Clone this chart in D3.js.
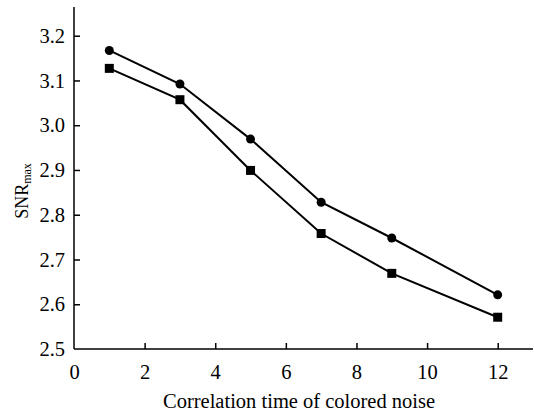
<!DOCTYPE html>
<html>
<head>
<meta charset="utf-8">
<script src="https://cdn.jsdelivr.net/npm/d3@7"></script>
<style>
  body { margin: 0; background: #fff; }
  svg text { font-family: "Liberation Serif", "Times New Roman", serif; fill: #000; }
</style>
</head>
<body>
<svg id="chart" width="534" height="412"></svg>
<script>
const xValues = [1, 3, 5, 7, 9, 12];
const circleSeries = [3.167, 3.092, 2.969, 2.828, 2.748, 2.621];
const squareSeries = [3.127, 3.057, 2.899, 2.758, 2.669, 2.571];
const xTicks = [0, 2, 4, 6, 8, 10, 12];
const yTicks = [2.5, 2.6, 2.7, 2.8, 2.9, 3.0, 3.1, 3.2];

const svg = d3.select("#chart");
const m = { left: 74, bottom: 349, right: 533, top: 7 };

const x = d3.scaleLinear().domain([0, 13]).range([m.left, m.right]);
const y = d3.scaleLinear().domain([2.5, 3.2]).range([m.bottom, 35.7]);

// axes (ticks point inward)
const xAxis = svg.append("g")
    .attr("transform", `translate(0,${m.bottom})`)
    .call(d3.axisBottom(x).tickValues(xTicks).tickSize(-6).tickPadding(15).tickSizeOuter(0));
xAxis.select(".domain").attr("d", `M${m.left},0H${m.right}`);
xAxis.selectAll(".tick").filter(d => d === 0).select("line").remove();

const yAxis = svg.append("g")
    .attr("transform", `translate(${m.left},0)`)
    .call(d3.axisLeft(y).tickValues(yTicks).tickFormat(d3.format(".1f")).tickSize(-6).tickPadding(9).tickSizeOuter(0));
yAxis.select(".domain").attr("d", `M0,${m.bottom}V${m.top}`);
yAxis.selectAll(".tick").filter(d => d === 2.5).select("line").remove();

svg.selectAll("g").attr("font-family", null).attr("font-size", null);
svg.selectAll(".domain, .tick line").attr("stroke", "#000").attr("stroke-width", 1.5);
svg.selectAll(".tick text").style("font-size", "20.5px");

// labels
svg.append("text")
    .attr("x", 163)
    .attr("y", 408)
    .style("font-size", "20.5px")
    .text("Correlation time of colored noise");

const yl = svg.append("text")
    .attr("transform", "translate(28,191) rotate(-90)")
    .attr("text-anchor", "middle")
    .style("font-size", "18px");
yl.append("tspan").text("SNR");
yl.append("tspan").style("font-size", "12px").attr("dy", 3).text("max");

// lines
const line = d3.line().x((d, i) => x(xValues[i])).y(d => y(d));

svg.append("path").datum(circleSeries)
    .attr("d", line).attr("fill", "none").attr("stroke", "#000").attr("stroke-width", 2);
svg.append("path").datum(squareSeries)
    .attr("d", line).attr("fill", "none").attr("stroke", "#000").attr("stroke-width", 2);

svg.selectAll("circle.pt").data(circleSeries).enter()
    .append("circle").attr("class", "pt")
    .attr("cx", (d, i) => x(xValues[i]))
    .attr("cy", d => y(d))
    .attr("r", 4.5)
    .attr("fill", "#000");

svg.selectAll("rect.pt").data(squareSeries).enter()
    .append("rect").attr("class", "pt")
    .attr("x", (d, i) => x(xValues[i]) - 4.5)
    .attr("y", d => y(d) - 4.5)
    .attr("width", 9).attr("height", 9)
    .attr("fill", "#000");
</script>
</body>
</html>
